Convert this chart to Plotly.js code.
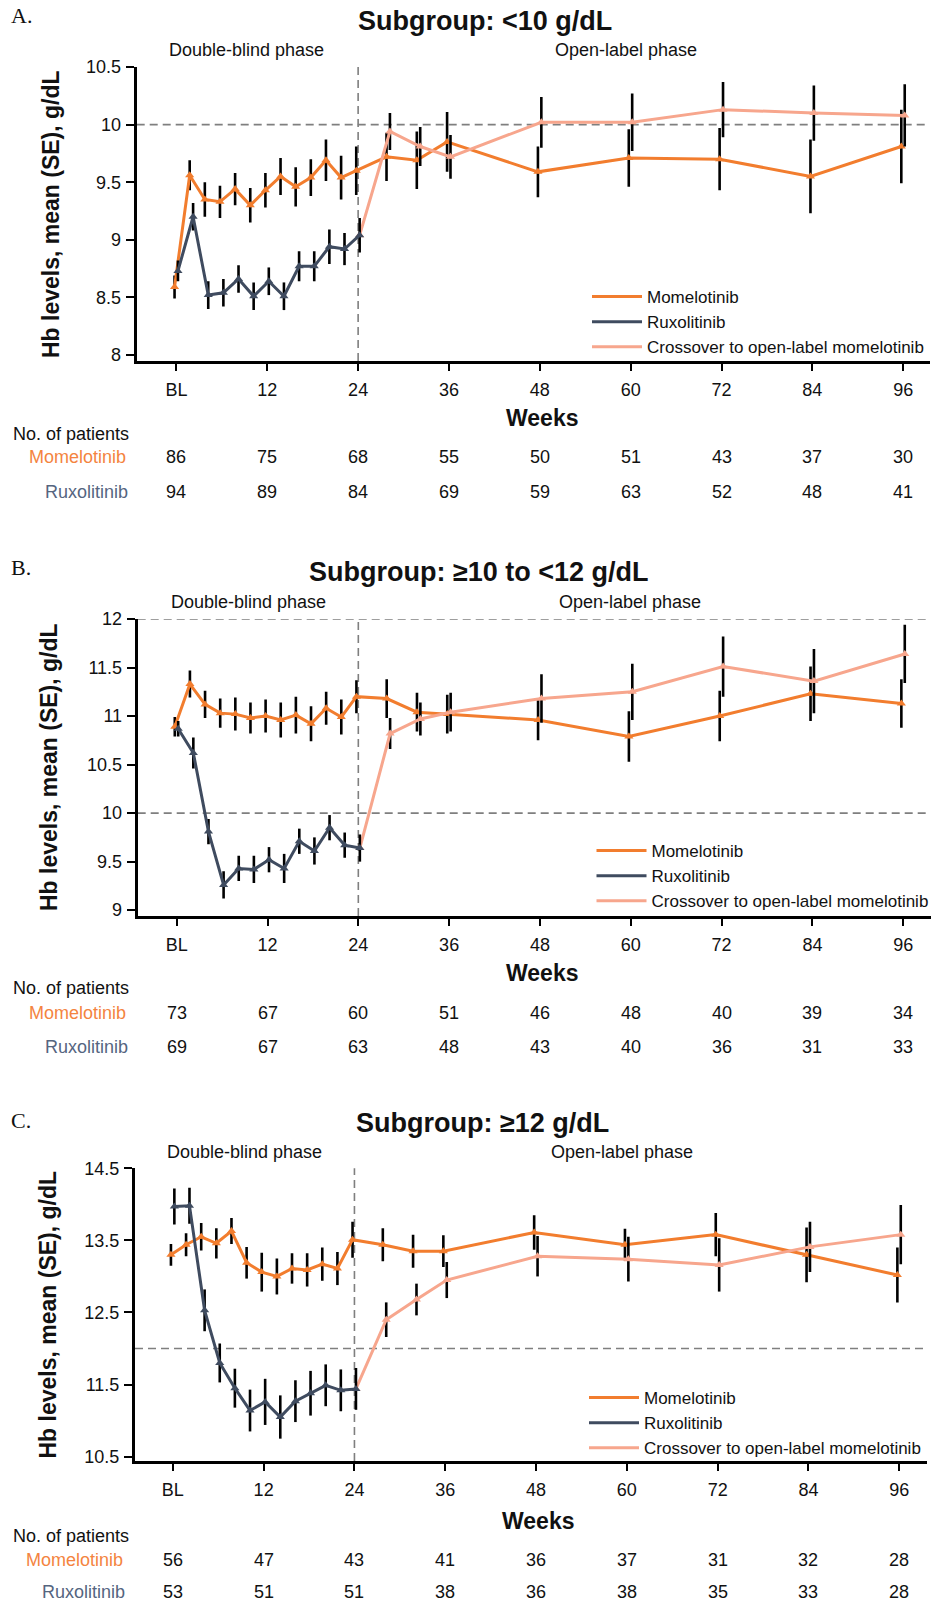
<!DOCTYPE html>
<html>
<head>
<meta charset="utf-8">
<script src="https://cdn.plot.ly/plotly-3.0.1.min.js"></script>
<style>
html,body{margin:0;padding:0;background:#fff;}
#chart{width:943px;height:1603px;}
</style>
</head>
<body>
<div id="chart"></div>
<script>
// ---------------- DATA ----------------
const weeksDB = [0,2,4,6,8,10,12,14,16,18,20,22,24];
const weeksMom = [0,2,4,6,8,10,12,14,16,18,20,22,24,28,32,36,48,60,72,84,96];
const weeksOL = [28,32,36,48,60,72,84,96];
const tickWeeks = [0,12,24,36,48,60,72,84,96];
const tickWeekText = ['BL','12','24','36','48','60','72','84','96'];

// Panel A: <10 g/dL
const momA    = [8.59,9.56,9.35,9.33,9.44,9.30,9.43,9.55,9.46,9.54,9.69,9.54,9.60,9.72,9.69,9.85,9.59,9.71,9.70,9.55,9.81];
const momA_se = [0.10,0.13,0.15,0.14,0.14,0.15,0.15,0.16,0.17,0.16,0.18,0.19,0.21,0.21,0.25,0.26,0.22,0.25,0.27,0.32,0.32];
const ruxA    = [8.73,9.20,8.52,8.54,8.66,8.51,8.64,8.51,8.77,8.77,8.94,8.92,9.04];
const ruxA_se = [0.09,0.12,0.12,0.12,0.12,0.12,0.12,0.12,0.13,0.13,0.15,0.14,0.15];
const crossA    = [9.94,9.81,9.72,10.02,10.02,10.13,10.10,10.08];
const crossA_se = [0.16,0.17,0.19,0.22,0.25,0.24,0.24,0.27];
const nMomA = [86,75,68,55,50,51,43,37,30];
const nRuxA = [94,89,84,69,59,63,52,48,41];
const yTickA = [8,8.5,9,9.5,10,10.5];
const yTickTextA = ['8','8.5','9','9.5','10','10.5'];
const refA = [10];

// Panel B: >=10 to <12 g/dL
const momB    = [10.89,11.33,11.12,11.03,11.02,10.98,11.00,10.96,11.01,10.92,11.08,10.99,11.20,11.18,11.04,11.02,10.96,10.79,11.00,11.23,11.13];
const momB_se = [0.10,0.14,0.14,0.15,0.17,0.16,0.17,0.18,0.19,0.18,0.17,0.18,0.17,0.20,0.20,0.20,0.21,0.26,0.26,0.28,0.25];
const ruxB    = [10.87,10.62,9.81,9.26,9.43,9.42,9.52,9.43,9.71,9.61,9.85,9.67,9.64];
const ruxB_se = [0.08,0.16,0.13,0.14,0.13,0.14,0.13,0.15,0.13,0.14,0.13,0.13,0.14];
const crossB    = [10.82,10.97,11.04,11.18,11.25,11.51,11.36,11.64];
const crossB_se = [0.16,0.17,0.20,0.25,0.29,0.31,0.33,0.30];
const nMomB = [73,67,60,51,46,48,40,39,34];
const nRuxB = [69,67,63,48,43,40,36,31,33];
const yTickB = [9,9.5,10,10.5,11,11.5,12];
const yTickTextB = ['9','9.5','10','10.5','11','11.5','12'];
const refB = [10,12];

// Panel C: >=12 g/dL
const momC    = [13.30,13.44,13.55,13.46,13.63,13.19,13.06,13.00,13.11,13.09,13.17,13.11,13.51,13.44,13.35,13.35,13.61,13.44,13.58,13.30,13.02];
const momC_se = [0.15,0.16,0.19,0.21,0.18,0.22,0.27,0.25,0.21,0.23,0.23,0.23,0.25,0.23,0.23,0.22,0.24,0.22,0.30,0.38,0.38];
const ruxC    = [13.97,13.98,12.53,11.80,11.45,11.14,11.26,11.05,11.27,11.38,11.49,11.42,11.44];
const ruxC_se = [0.25,0.25,0.29,0.27,0.27,0.29,0.32,0.30,0.29,0.31,0.29,0.29,0.29];
const crossC    = [12.40,12.68,12.95,13.28,13.24,13.16,13.41,13.58];
const crossC_se = [0.24,0.22,0.25,0.28,0.31,0.37,0.35,0.41];
const nMomC = [56,47,43,41,36,37,31,32,28];
const nRuxC = [53,51,51,38,36,38,35,33,28];
const yTickC = [10.5,11.5,12.5,13.5,14.5];
const yTickTextC = ['10.5','11.5','12.5','13.5','14.5'];
const refC = [12];

const titles = ['Subgroup: <10 g/dL','Subgroup: \u226510 to <12 g/dL','Subgroup: \u226512 g/dL'];
const letters = ['A.','B.','C.'];
const seriesNames = ['Momelotinib','Ruxolitinib','Crossover to open-label momelotinib'];

// ---------------- STYLE / LAYOUT ----------------
const W = 943, H = 1603;
const PX = v => v / W;
const PY = v => 1 - v / H;
const FONT = 'Liberation Sans, Arial, Helvetica, sans-serif';
const SERIF = 'Liberation Serif, Times New Roman, serif';
const C_MOM = '#F27D2E', C_RUX = '#3F4B5F', C_CROSS = '#F7A68D';
const T_MOM = '#F4843F', T_RUX = '#55657F';
const DODGE = {mom:-0.25, rux:0.2, cross:0.2};

const panels = [
  {data:{mom:momA,momSE:momA_se,rux:ruxA,ruxSE:ruxA_se,cross:crossA,crossSE:crossA_se,nMom:nMomA,nRux:nRuxA,yt:yTickA,ytt:yTickTextA,ref:refA},
   g:{xl:136.7,xr:929.7,xrange:[-5.25,99.5],yt:67,yb:361,yrange:[7.948,10.5],title:[485,20.7],letter:[9,16],phaseY:50,db:246.5,ol:625.5,ytitle:[51,214],weeks:[542,418],table:[434,457,491.7],momR:128,ruxR:129.5,leg:[587,279]}},
  {data:{mom:momB,momSE:momB_se,rux:ruxB,ruxSE:ruxB_se,cross:crossB,crossSE:crossB_se,nMom:nMomB,nRux:nRuxB,yt:yTickB,ytt:yTickTextB,ref:refB},
   g:{xl:137.7,xr:930.5,xrange:[-5.15,99.6],yt:619,yb:916,yrange:[8.94,12],title:[479,571.7],letter:[9,567],phaseY:601.7,db:248,ol:630,ytitle:[49,767],weeks:[542,973],table:[988,1013,1047],momR:128,ruxR:129.5,leg:[591.5,833]}},
  {data:{mom:momC,momSE:momC_se,rux:ruxC,ruxSE:ruxC_se,cross:crossC,crossSE:crossC_se,nMom:nMomC,nRux:nRuxC,yt:yTickC,ytt:yTickTextC,ref:refC},
   g:{xl:135,xr:926.5,xrange:[-5.0,99.6],yt:1168.3,yb:1461,yrange:[10.44,14.5],title:[482.5,1123.3],letter:[9,1120.5],phaseY:1151.7,db:244,ol:622,ytitle:[47.5,1315],weeks:[538,1521],table:[1536,1560,1591.7],momR:124.5,ruxR:126.5,leg:[584,1380]}}
];

const traces = [];
const annotations = [];
const shapes = [];
const layout = {
  width: W, height: H,
  margin: {l:0, r:0, t:0, b:0},
  paper_bgcolor: '#fff', plot_bgcolor: '#fff',
  font: {family: FONT, color: '#111'},
  showlegend: true,
  annotations: annotations,
  shapes: shapes
};

panels.forEach((p, i) => {
  const n = i === 0 ? '' : String(i + 1);
  const xa = 'x' + n, ya = 'y' + n;
  const legName = 'legend' + n;
  const d = p.data, g = p.g;

  layout['xaxis' + n] = {
    domain: [PX(g.xl), PX(g.xr)], range: g.xrange, anchor: ya,
    tickmode: 'array', tickvals: tickWeeks, ticktext: tickWeekText,
    ticks: 'outside', ticklen: 7, tickwidth: 2, tickcolor: '#000',
    showline: true, linewidth: 3, linecolor: '#000',
    showgrid: false, zeroline: false, fixedrange: true,
    tickfont: {family: FONT, size: 18, color: '#111'},
    ticklabelstandoff: 3
  };
  layout['yaxis' + n] = {
    domain: [PY(g.yb), PY(g.yt)], range: g.yrange, anchor: xa,
    tickmode: 'array', tickvals: d.yt, ticktext: d.ytt,
    ticks: 'outside', ticklen: 8, tickwidth: 2, tickcolor: '#000',
    showline: true, linewidth: 3, linecolor: '#000',
    showgrid: false, zeroline: false, fixedrange: true,
    tickfont: {family: FONT, size: 18, color: '#111'},
    ticklabelstandoff: 1
  };
  layout[legName] = {
    x: PX(g.leg[0]), y: PY(g.leg[1]), xanchor: 'left', yanchor: 'top',
    bgcolor: 'rgba(0,0,0,0)', borderwidth: 0,
    font: {family: FONT, size: 17, color: '#111'},
    itemwidth: 50, traceorder: 'normal', tracegroupgap: 0
  };

  // reference lines
  shapes.push({type:'line', layer:'below', xref: xa, yref: ya + ' domain', x0: 24, x1: 24, y0: 0, y1: 1,
    line: {color: '#7f7f7f', width: 1.6, dash: '8px,5px'}});
  d.ref.forEach(v => shapes.push({type:'line', layer:'below', xref: xa + ' domain', yref: ya, x0: 0, x1: 1, y0: v, y1: v,
    line: {color: '#7f7f7f', width: 1.6, dash: '8px,5px'}}));

  const eb = arr => ({type:'data', array: arr, visible: true, color: '#000', thickness: 2.6, width: 0});
  const mk = c => ({symbol: 'triangle-up', size: 8, color: c, line: {width: 0}});

  // Momelotinib
  traces.push({type:'scatter', mode:'lines+markers', xaxis: xa, yaxis: ya, showlegend: false, hoverinfo:'skip',
    x: weeksMom.map(w => w + DODGE.mom), y: d.mom, error_y: eb(d.momSE),
    line: {color: C_MOM, width: 3}, marker: mk(C_MOM), cliponaxis: false});
  // Crossover (starts from the last ruxolitinib point)
  const cx = [weeksDB[weeksDB.length - 1] + DODGE.rux].concat(weeksOL.map(w => w + DODGE.cross));
  const cy = [d.rux[d.rux.length - 1]].concat(d.cross);
  const cse = [0].concat(d.crossSE);
  traces.push({type:'scatter', mode:'lines+markers', xaxis: xa, yaxis: ya, showlegend: false, hoverinfo:'skip',
    x: cx, y: cy, error_y: eb(cse),
    line: {color: C_CROSS, width: 3}, marker: mk(C_CROSS), cliponaxis: false});
  // Ruxolitinib
  traces.push({type:'scatter', mode:'lines+markers', xaxis: xa, yaxis: ya, showlegend: false, hoverinfo:'skip',
    x: weeksDB.map(w => w + DODGE.rux), y: d.rux, error_y: eb(d.ruxSE),
    line: {color: C_RUX, width: 3}, marker: mk(C_RUX), cliponaxis: false});
  // Legend entries
  [[seriesNames[0], C_MOM], [seriesNames[1], C_RUX], [seriesNames[2], C_CROSS]].forEach(([nm, c]) => {
    traces.push({type:'scatter', mode:'lines', xaxis: xa, yaxis: ya, legend: legName, name: nm, showlegend: true,
      x: [null], y: [null], line: {color: c, width: 3}, hoverinfo:'skip'});
  });

  // Texts
  annotations.push({xref:'paper', yref:'paper', x: PX(g.letter[0]), y: PY(g.letter[1]), xanchor:'left', yanchor:'middle',
    text: letters[i], showarrow: false, font: {family: SERIF, size: 22, color: '#111'}});
  annotations.push({xref:'paper', yref:'paper', x: PX(g.title[0]), y: PY(g.title[1]), xanchor:'center', yanchor:'middle',
    text: '<b>' + titles[i].replace(/</g, '&lt;') + '</b>', showarrow: false, font: {family: FONT, size: 27, color: '#111'}});
  annotations.push({xref:'paper', yref:'paper', x: PX(g.db), y: PY(g.phaseY), xanchor:'center', yanchor:'middle',
    text: 'Double-blind phase', showarrow: false, font: {family: FONT, size: 18, color: '#111'}});
  annotations.push({xref:'paper', yref:'paper', x: PX(g.ol), y: PY(g.phaseY), xanchor:'center', yanchor:'middle',
    text: 'Open-label phase', showarrow: false, font: {family: FONT, size: 18, color: '#111'}});
  annotations.push({xref:'paper', yref:'paper', x: PX(g.ytitle[0]), y: PY(g.ytitle[1]), xanchor:'center', yanchor:'middle',
    text: '<b>Hb levels, mean (SE), g/dL</b>', textangle: -90, showarrow: false, font: {family: FONT, size: 23, color: '#111'}});
  annotations.push({xref:'paper', yref:'paper', x: PX(g.weeks[0]), y: PY(g.weeks[1]), xanchor:'center', yanchor:'middle',
    text: '<b>Weeks</b>', showarrow: false, font: {family: FONT, size: 23, color: '#111'}});
  // Patients table
  annotations.push({xref:'paper', yref:'paper', x: PX(11), y: PY(g.table[0]), xanchor:'left', yanchor:'middle',
    text: 'No. of patients', showarrow: false, font: {family: FONT, size: 18, color: '#111'}});
  annotations.push({xref:'paper', yref:'paper', x: PX(g.momR), y: PY(g.table[1]), xanchor:'right', yanchor:'middle',
    text: 'Momelotinib', showarrow: false, font: {family: FONT, size: 18, color: T_MOM}});
  annotations.push({xref:'paper', yref:'paper', x: PX(g.ruxR), y: PY(g.table[2]), xanchor:'right', yanchor:'middle',
    text: 'Ruxolitinib', showarrow: false, font: {family: FONT, size: 18, color: T_RUX}});
  tickWeeks.forEach((w, k) => {
    annotations.push({xref: xa, yref:'paper', x: w, y: PY(g.table[1]), xanchor:'center', yanchor:'middle',
      text: String(d.nMom[k]), showarrow: false, font: {family: FONT, size: 18, color: '#111'}});
    annotations.push({xref: xa, yref:'paper', x: w, y: PY(g.table[2]), xanchor:'center', yanchor:'middle',
      text: String(d.nRux[k]), showarrow: false, font: {family: FONT, size: 18, color: '#111'}});
  });
});

Plotly.newPlot('chart', traces, layout, {displayModeBar: false, staticPlot: true});
</script>
</body>
</html>
